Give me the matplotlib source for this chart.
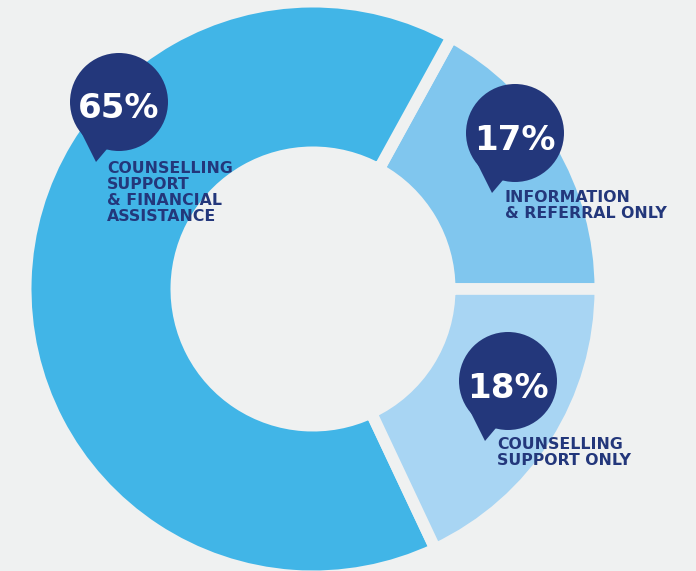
import matplotlib
matplotlib.use("Agg")
import matplotlib.pyplot as plt
from matplotlib.patches import Circle, Polygon

# Share of clients by type of support received
categories = ["INFORMATION\n& REFERRAL ONLY",
              "COUNSELLING\nSUPPORT\n& FINANCIAL\nASSISTANCE",
              "COUNSELLING\nSUPPORT ONLY"]
shares = [17, 65, 18]
pct_labels = ["17%", "65%", "18%"]
colors = ["#80C6EE", "#41B5E7", "#A8D5F3"]

BG = "#EFF1F1"
NAVY = "#23377B"

W, H = 696, 571
fig = plt.figure(figsize=(W / 100, H / 100), dpi=100, facecolor=BG)
ax = fig.add_axes([0, 0, 1, 1])
ax.set_facecolor(BG)

# donut, in pixel-like data units (origin bottom-left)
cx, cy = 313, H - 289
gap_pt = 8.4
gap_px = gap_pt * 100 / 72
r_out = 281.5 + gap_px / 2
r_in = 142.5 - gap_px / 2
ax.pie(shares, colors=colors, startangle=0, counterclock=True,
       center=(cx, cy), radius=r_out,
       wedgeprops=dict(width=r_out - r_in, edgecolor=BG, linewidth=gap_pt))

# callout bubbles (image-style coordinates: y measured from top)
bubble_centres = [(515, 133), (119, 102), (508, 381)]
label_anchor = [(505, 190), (107, 161), (497, 437)]
bubble_r = 49

for (bx, by), (lx, ly), pct, cat in zip(bubble_centres, label_anchor,
                                         pct_labels, categories):
    y = H - by
    ax.add_patch(Circle((bx, y), bubble_r, facecolor=NAVY, edgecolor="none",
                        zorder=5))
    tail = [(bx - 38, y - 30), (bx - 12, y - 47), (bx - 23, y - 60)]
    ax.add_patch(Polygon(tail, closed=True, facecolor=NAVY, edgecolor="none",
                         zorder=5))
    ax.text(bx, y - 7, pct, color="white", fontsize=24.5, fontweight="bold",
            family="DejaVu Sans", ha="center", va="center", zorder=6)
    ax.text(lx, H - ly, cat, color=NAVY, fontsize=11.3, fontweight="bold",
            family="DejaVu Sans", ha="left", va="top", linespacing=1.08,
            zorder=6)

ax.set_xlim(0, W)
ax.set_ylim(0, H)
ax.set_aspect("auto")
ax.axis("off")

fig.savefig("out.png", dpi=100, facecolor=BG)
